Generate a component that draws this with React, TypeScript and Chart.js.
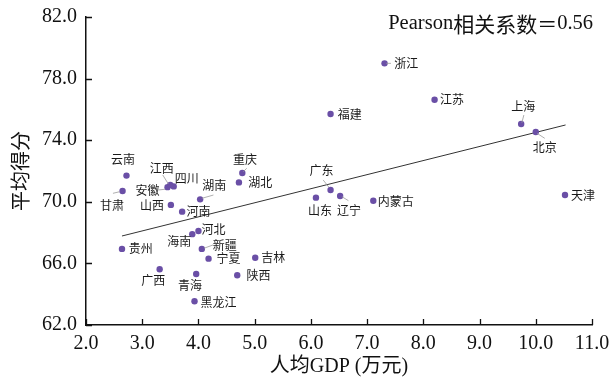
import React, { useEffect, useRef } from "react";
import { Chart, registerables } from "chart.js";

Chart.register(...registerables);

const provinces = ["北京", "天津", "河北", "山西", "内蒙古", "辽宁", "吉林", "黑龙江", "上海", "江苏", "浙江", "安徽", "福建", "江西", "山东", "河南", "湖北", "湖南", "广东", "广西", "海南", "重庆", "四川", "贵州", "云南", "陕西", "甘肃", "青海", "宁夏", "新疆"];
const gdpPerCapita = [10.0, 10.52, 4.0, 3.51, 7.11, 6.52, 5.01, 3.93, 9.74, 8.2, 7.31, 3.45, 6.35, 3.5, 6.09, 3.71, 4.72, 4.03, 6.35, 3.31, 3.89, 4.78, 3.56, 2.64, 2.72, 4.69, 2.65, 3.96, 4.18, 4.06];
const avgScore = [74.53, 70.44, 68.1, 69.8, 70.07, 70.38, 66.37, 63.54, 75.05, 76.63, 78.99, 70.95, 75.7, 71.1, 70.27, 69.36, 71.26, 70.16, 70.77, 65.62, 67.9, 71.87, 71.0, 66.94, 71.7, 65.23, 70.7, 65.31, 66.31, 66.94];
const fitLineX = [2.64, 10.53];
const fitLineY = [67.78, 74.99];
const xTickValues = [2, 3, 4, 5, 6, 7, 8, 9, 10, 11];
const yTickValues = [62, 66, 70, 74, 78, 82];
const xAxisTitle = "人均GDP (万元)";
const yAxisTitle = "平均得分";
const pearsonParts = ["Pearson", "相关系数", "＝", "0.56"];

// label placement (pixel offsets from point): [dx, dy, leader line x1, y1, x2, y2]
const labelPlacement: Record<string, number[]> = {
  北京: [9, 15.7, 1.3, 1.3, 9, 6.3],
  天津: [18, 0],
  河北: [15, -1.7],
  山西: [-19, 1],
  内蒙古: [22.4, 1],
  辽宁: [9, 14, 1.7, 0.7, 8.3, 4.7],
  吉林: [18, 0],
  黑龙江: [24, 1],
  上海: [2, -17.3, 2.7, -9, 0.7, -1.3],
  江苏: [17.4, 0],
  浙江: [21.7, 0, 1.7, 0, 6.4, 0],
  安徽: [-20, 3.5, -9.2, 2.8, -2.5, 2.1],
  福建: [19.3, 0],
  江西: [-8.6, -16.6, -7.6, -9.9, -2, -0.9],
  山东: [4, 12.3],
  河南: [16.3, -0.7],
  湖北: [21.3, 0],
  湖南: [14, -14.3, 1.7, -1, 13.3, -4.3],
  广东: [-9, -19.3, -7.4, -10, -1.7, -2.7],
  广西: [-6.4, 11.4],
  海南: [-13, 7.7],
  重庆: [2.7, -13.7, 1, -1.3, 4.4, -4.7],
  四川: [13, -8],
  贵州: [18.7, -0.7],
  云南: [-3.4, -15.7],
  陕西: [21.3, 0],
  甘肃: [-10.6, 14, -9.6, 2.3, -3, 0.7],
  青海: [-6.3, 11.7],
  宁夏: [20, 0],
  新疆: [23, -3, 2.3, -0.7, 11.3, -4],
};

const SERIF = "'Liberation Serif', 'Noto Sans CJK SC', serif";
const CJK = "'Noto Sans CJK SC', sans-serif";
const pearsonFonts = [`20.5px ${SERIF}`, `21px ${CJK}`, `20px ${CJK}`, `20.5px ${SERIF}`];

const extrasPlugin = {
  id: "extras",
  afterDraw(chart: any) {
    const ctx = chart.ctx;
    const xs = chart.scales.x;
    const ys = chart.scales.y;
    const area = chart.chartArea;
    ctx.save();
    // inward tick marks
    ctx.strokeStyle = "#111";
    ctx.lineWidth = 1.3;
    ctx.beginPath();
    xTickValues.forEach((v) => {
      const px = Math.round(xs.getPixelForValue(v)) + 0.5;
      ctx.moveTo(px, area.bottom);
      ctx.lineTo(px, area.bottom - 6);
    });
    yTickValues.forEach((v) => {
      const py = Math.round(ys.getPixelForValue(v)) + 0.5;
      ctx.moveTo(area.left, py);
      ctx.lineTo(area.left + 6, py);
    });
    ctx.stroke();

    // point labels
    const meta = chart.getDatasetMeta(0);
    ctx.strokeStyle = "#9a9a9a";
    ctx.lineWidth = 0.8;
    meta.data.forEach((el: any, i: number) => {
      const p = labelPlacement[provinces[i]];
      if (p && p.length > 2) {
        ctx.beginPath();
        ctx.moveTo(el.x + p[2], el.y + p[3]);
        ctx.lineTo(el.x + p[4], el.y + p[5]);
        ctx.stroke();
      }
    });
    ctx.fillStyle = "#1a1a1a";
    ctx.font = `12px ${CJK}`;
    ctx.textAlign = "center";
    ctx.textBaseline = "middle";
    meta.data.forEach((el: any, i: number) => {
      const p = labelPlacement[provinces[i]] || [15, 0];
      ctx.fillText(provinces[i], el.x + p[0], el.y + p[1]);
    });

    // Pearson annotation
    ctx.fillStyle = "#111";
    ctx.textAlign = "left";
    const widths = pearsonParts.map((t, i) => {
      ctx.font = pearsonFonts[i];
      return ctx.measureText(t).width;
    });
    const total = widths.reduce((a, b) => a + b, 0);
    let x = area.right + 1 - total;
    pearsonParts.forEach((t, i) => {
      ctx.font = pearsonFonts[i];
      ctx.fillText(t, x, area.top + 7);
      x += widths[i];
    });
    ctx.restore();
  },
};

export default function App() {
  const canvasRef = useRef<HTMLCanvasElement | null>(null);

  useEffect(() => {
    document.body.style.margin = "0";
    const canvas = canvasRef.current;
    if (!canvas) return;
    const points = gdpPerCapita.map((x, i) => ({ x, y: avgScore[i] }));
    const fit = fitLineX.map((x, i) => ({ x, y: fitLineY[i] }));
    const chart = new Chart(canvas, {
      type: "scatter",
      data: {
        datasets: [
          {
            label: "省份",
            data: points,
            backgroundColor: "#6a4fa6",
            borderWidth: 0,
            pointRadius: 3.2,
          },
          {
            label: "拟合线",
            data: fit,
            showLine: true,
            borderColor: "#333",
            borderWidth: 1,
            pointRadius: 0,
          } as any,
        ],
      },
      options: {
        animation: false,
        responsive: true,
        maintainAspectRatio: false,
        layout: { padding: { top: 17, right: 17, left: 0, bottom: 0 } },
        plugins: { legend: { display: false }, tooltip: { enabled: false } },
        scales: {
          x: {
            type: "linear",
            min: 2,
            max: 11,
            afterBuildTicks: (s: any) => {
              s.ticks = xTickValues.map((v) => ({ value: v }));
            },
            afterFit: (s: any) => {
              s.height = 57;
              s.paddingLeft = 0;
              s.paddingRight = 0;
            },
            grid: { drawOnChartArea: false, drawTicks: false },
            border: { display: true, color: "#111", width: 1.5 },
            ticks: {
              padding: 7,
              color: "#111",
              font: { family: SERIF, size: 20 },
              callback: (v: any) => Number(v).toFixed(1),
              maxRotation: 0,
            },
            title: {
              display: true,
              text: xAxisTitle,
              color: "#111",
              font: { family: SERIF, size: 20 },
              padding: { top: 3, bottom: 3 },
            },
          },
          y: {
            type: "linear",
            min: 62,
            max: 82,
            afterBuildTicks: (s: any) => {
              s.ticks = yTickValues.map((v) => ({ value: v }));
            },
            afterFit: (s: any) => {
              s.width = 86;
              s.paddingTop = 0;
              s.paddingBottom = 0;
            },
            grid: { drawOnChartArea: false, drawTicks: false },
            border: { display: true, color: "#111", width: 1.5 },
            ticks: {
              padding: 9,
              color: "#111",
              font: { family: SERIF, size: 20 },
              callback: (v: any) => Number(v).toFixed(1),
            },
            title: {
              display: true,
              text: yAxisTitle,
              color: "#111",
              font: { family: CJK, size: 20 },
              padding: { top: 8, bottom: 4 },
            },
          },
        },
      },
      plugins: [extrasPlugin],
    });
    return () => chart.destroy();
  }, []);

  return (
    <div style={{ width: 609, height: 382, position: "relative", background: "#fff" }}>
      <canvas ref={canvasRef} />
    </div>
  );
}
